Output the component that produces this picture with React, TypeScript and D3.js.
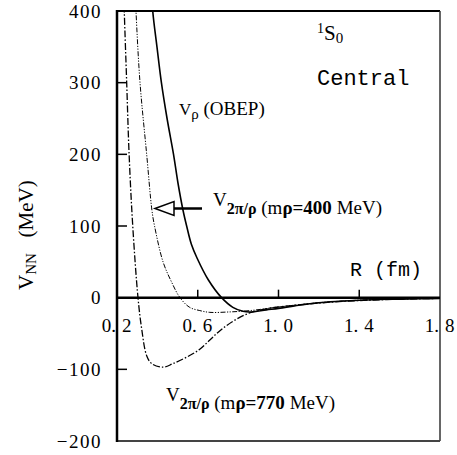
import React from "react";
import * as d3 from "d3";

const xTicks = [0.2, 0.6, 1.0, 1.4, 1.8];
const xTickLabels = ["0.2", "0.6", "1.0", "1.4", "1.8"];
const yTicks = [400, 300, 200, 100, 0, -100, -200];
const yTickLabels = ["400", "300", "200", "100", "0", "\u2212100", "\u2212200"];

// V_rho (OBEP), solid
const obepR = [0.365, 0.377, 0.398, 0.42, 0.448, 0.48, 0.502, 0.527, 0.545, 0.568, 0.597, 0.652, 0.718, 0.774, 0.824, 0.86, 0.94, 1.0, 1.1, 1.2, 1.3, 1.4, 1.5, 1.6, 1.7, 1.8];
const obepV = [460, 400, 350, 300, 250, 200, 160, 122, 100, 75, 55, 25, 0, -13.5, -19, -20, -17, -15, -10.5, -7, -5, -3.5, -2.5, -2, -1.5, -1];

// V_2pi/rho (m_rho = 400 MeV), dash-dot-dot
const v400R = [0.285, 0.294, 0.314, 0.347, 0.373, 0.386, 0.428, 0.47, 0.512, 0.56, 0.61, 0.66, 0.75, 0.86, 1.0, 1.1, 1.2, 1.3, 1.4, 1.5, 1.6, 1.7, 1.8];
const v400V = [460, 400, 300, 200, 122, 100, 50, 22, 0, -13.5, -18, -20.5, -20, -18, -13, -10, -7, -5, -3.5, -2.5, -1.8, -1.2, -0.8];

// V_2pi/rho (m_rho = 770 MeV), dash-dot
const v770R = [0.23, 0.236, 0.248, 0.26, 0.278, 0.304, 0.322, 0.347, 0.372, 0.43, 0.477, 0.545, 0.61, 0.66, 0.71, 0.78, 0.86, 0.95, 1.0, 1.1, 1.2, 1.3, 1.4, 1.5, 1.6, 1.7, 1.8];
const v770V = [460, 400, 300, 200, 100, 0, -43, -81, -92, -97, -92, -83, -72, -59, -46, -32, -21, -15, -13, -10, -7.5, -5.5, -4, -3, -2, -1.5, -1];

const W = 457;
const H = 455;
const L = 117, R = 440, T = 11, B = 441;

export default function App() {
  const x = d3.scaleLinear().domain([0.2, 1.8]).range([L, R]);
  const y = d3.scaleLinear().domain([-200, 400]).range([B, T]);
  const line = d3
    .line<[number, number]>()
    .x((d) => x(d[0]))
    .y((d) => y(d[1]))
    .curve(d3.curveCatmullRom.alpha(0.5));
  const zip = (a: number[], b: number[]) => a.map((v, i) => [v, b[i]] as [number, number]);
  const serif = "'Liberation Serif', 'Times New Roman', serif";
  const mono = "'Liberation Mono', monospace";

  return (
    <svg width={W} height={H} style={{ position: "absolute", left: 0, top: 0, background: "#fff" }}>
      <defs>
        <clipPath id="plot">
          <rect x={L} y={T} width={R - L} height={B - T} />
        </clipPath>
      </defs>
      <rect x={0} y={0} width={W} height={H} fill="#fff" />
      <g clipPath="url(#plot)" fill="none" stroke="#000">
        <path d={line(zip(obepR, obepV)) || ""} strokeWidth={1.6} />
        <path d={line(zip(v400R, v400V)) || ""} strokeWidth={1} strokeDasharray="5 1.5 1.2 1.5 1.2 1.5" />
        <path d={line(zip(v770R, v770V)) || ""} strokeWidth={1.3} strokeDasharray="7 2 1.5 2" />
      </g>
      {/* frame */}
      <line x1={L} x2={R} y1={T} y2={T} stroke="#000" strokeWidth={2} />
      <line x1={R} x2={R} y1={T} y2={B} stroke="#333" strokeWidth={1.5} />
      <line x1={L} x2={R} y1={B} y2={B} stroke="#444" strokeWidth={2} />
      <line x1={L} x2={L} y1={T - 1} y2={B + 1} stroke="#000" strokeWidth={2.5} />
      {/* zero line */}
      <line x1={L} x2={R} y1={y(0)} y2={y(0)} stroke="#000" strokeWidth={2.5} />
      {/* y ticks */}
      {yTicks.filter((t) => t !== 400 && t !== 0 && t !== -200).map((t) => (
        <line key={"yt" + t} x1={L} x2={L + 10} y1={y(t)} y2={y(t)} stroke="#000" strokeWidth={1.5} />
      ))}
      {yTicks.map((t, i) => (
        <text key={"yl" + t} x={102} y={y(t)} dy="0.35em" textAnchor="end" fontFamily={serif} fontSize={19} letterSpacing={1.5}>
          {yTickLabels[i]}
        </text>
      ))}
      {/* x ticks */}
      {xTicks.filter((t) => t !== 0.2 && t !== 1.8).map((t) => (
        <line key={"xt" + t} x1={x(t)} x2={x(t)} y1={y(0)} y2={y(0) - 8} stroke="#000" strokeWidth={1.5} />
      ))}
      {xTicks.map((t, i) => {
        const [a, b] = xTickLabels[i].split(".");
        return (
          <g key={"xl" + t} fontFamily={serif} fontSize={19}>
            <text x={x(t) - 1} y={332} textAnchor="end">{a + "."}</text>
            <text x={x(t) + 5} y={332}>{b}</text>
          </g>
        );
      })}
      {/* axis titles */}
      <text x={350} y={276} fontFamily={mono} fontSize={20}>R (fm)</text>
      <text transform="translate(33,290) rotate(-90)" fontFamily={serif} fontSize={21}>
        <tspan>V</tspan>
        <tspan fontSize={15} dy={3}>NN</tspan>
        <tspan dy={-3}>{"\u00a0\u00a0\u00a0(MeV)"}</tspan>
      </text>
      {/* 1S0 Central */}
      <text x={317} y={40} fontFamily={serif} fontSize={21}>
        <tspan fontSize={14} dy={-7}>1</tspan>
        <tspan dy={7}>S</tspan>
        <tspan fontSize={15} dy={3}>0</tspan>
      </text>
      <text x={317} y={85} fontFamily={mono} fontSize={22}>Central</text>
      {/* V_rho (OBEP) */}
      <text x={179} y={115} fontFamily={serif} fontSize={17}>
        <tspan>V</tspan>
        <tspan fontSize={15} dy={4}>ρ</tspan>
        <tspan fontSize={19} dy={-4}>{"\u00a0(OBEP)"}</tspan>
      </text>
      {/* arrow */}
      <line x1={173} x2={202} y1={208.5} y2={208.5} stroke="#000" strokeWidth={2.5} />
      <path d="M155,208.5 L174,201.5 L174,215.5 Z" fill="#fff" stroke="#000" strokeWidth={1.5} />
      {/* V_2pi/rho (400) */}
      <text x={213} y={206} fontFamily={serif} fontSize={19}>
        <tspan>V</tspan>
        <tspan fontSize={16} dy={8} fontWeight="bold">2π/ρ</tspan>
        <tspan>{"\u00a0(m"}</tspan>
        <tspan fontWeight="bold">ρ=400</tspan>
        <tspan>{"\u00a0MeV)"}</tspan>
      </text>
      {/* V_2pi/rho (770) */}
      <text x={166} y={401} fontFamily={serif} fontSize={19}>
        <tspan>V</tspan>
        <tspan fontSize={16} dy={8} fontWeight="bold">2π/ρ</tspan>
        <tspan>{"\u00a0(m"}</tspan>
        <tspan fontWeight="bold">ρ=770</tspan>
        <tspan>{"\u00a0MeV)"}</tspan>
      </text>
    </svg>
  );
}
